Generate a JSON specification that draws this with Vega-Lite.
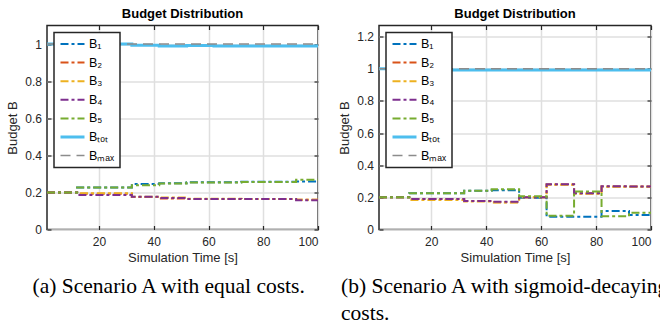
{
  "$schema": "https://vega.github.io/schema/vega-lite/v6.json",
  "padding": {"left": 5, "top": 6.5, "right": -11, "bottom": -3.5},
  "spacing": 17,
  "config": {
    "font": "Liberation Sans",
    "view": {"stroke": "#262626", "strokeWidth": 1.5},
    "axis": {
      "labelFontSize": 12, "labelColor": "#262626", "labelFont": "Liberation Sans",
      "titleFontSize": 13, "titleFontWeight": "normal", "titleColor": "#262626", "titleFont": "Liberation Sans",
      "gridColor": "#dfdfdf", "gridWidth": 1.5, "domain": false,
      "tickColor": "#262626", "tickSize": -4, "tickWidth": 1.2
    },
    "axisX": {"labelPadding": 11, "titlePadding": 4},
    "axisY": {"labelPadding": 9.5, "titlePadding": 5.5},
    "legend": {
      "orient": "top-left", "offset": 7, "title": null, "symbolType": "stroke", "symbolSize": 576,
      "labelFont": "Liberation Sans", "labelFontSize": 12.5, "labelColor": "black", "rowPadding": 5.6, "clipHeight": 13,
      "padding": 5, "strokeColor": "#262626", "strokeWidth": 1.5, "fillColor": "white", "labelOffset": 3
    },
    "title": {"font": "Liberation Sans", "fontSize": 13, "fontWeight": "bold", "color": "black", "offset": 4}
  },
  "datasets": {
    "a": [
      {"s": "B₁", "t": 1, "v": 0.2}, {"s": "B₁", "t": 12, "v": 0.226}, {"s": "B₁", "t": 32, "v": 0.245}, {"s": "B₁", "t": 42, "v": 0.249}, {"s": "B₁", "t": 52, "v": 0.255}, {"s": "B₁", "t": 72, "v": 0.257}, {"s": "B₁", "t": 92, "v": 0.259}, {"s": "B₁", "t": 100, "v": 0.259},
      {"s": "B₂", "t": 1, "v": 0.2}, {"s": "B₂", "t": 12, "v": 0.193}, {"s": "B₂", "t": 32, "v": 0.175}, {"s": "B₂", "t": 42, "v": 0.167}, {"s": "B₂", "t": 52, "v": 0.165}, {"s": "B₂", "t": 72, "v": 0.164}, {"s": "B₂", "t": 92, "v": 0.16}, {"s": "B₂", "t": 100, "v": 0.16},
      {"s": "B₃", "t": 1, "v": 0.2}, {"s": "B₃", "t": 12, "v": 0.195}, {"s": "B₃", "t": 32, "v": 0.177}, {"s": "B₃", "t": 42, "v": 0.172}, {"s": "B₃", "t": 52, "v": 0.166}, {"s": "B₃", "t": 72, "v": 0.165}, {"s": "B₃", "t": 92, "v": 0.161}, {"s": "B₃", "t": 100, "v": 0.161},
      {"s": "B₄", "t": 1, "v": 0.2}, {"s": "B₄", "t": 12, "v": 0.186}, {"s": "B₄", "t": 32, "v": 0.176}, {"s": "B₄", "t": 42, "v": 0.17}, {"s": "B₄", "t": 52, "v": 0.165}, {"s": "B₄", "t": 72, "v": 0.164}, {"s": "B₄", "t": 92, "v": 0.158}, {"s": "B₄", "t": 100, "v": 0.158},
      {"s": "B₅", "t": 1, "v": 0.2}, {"s": "B₅", "t": 12, "v": 0.226}, {"s": "B₅", "t": 32, "v": 0.238}, {"s": "B₅", "t": 42, "v": 0.248}, {"s": "B₅", "t": 52, "v": 0.254}, {"s": "B₅", "t": 72, "v": 0.256}, {"s": "B₅", "t": 92, "v": 0.268}, {"s": "B₅", "t": 100, "v": 0.268},
      {"s": "Bₜₒₜ", "t": 1, "v": 1.0}, {"s": "Bₜₒₜ", "t": 32, "v": 0.993}, {"s": "Bₜₒₜ", "t": 42, "v": 0.99}, {"s": "Bₜₒₜ", "t": 52, "v": 0.992}, {"s": "Bₜₒₜ", "t": 62, "v": 0.99}, {"s": "Bₜₒₜ", "t": 100, "v": 0.99},
      {"s": "Bₘₐₓ", "t": 1, "v": 1.0}, {"s": "Bₘₐₓ", "t": 100, "v": 1.0}
    ],
    "b": [
      {"s": "B₁", "t": 1, "v": 0.2}, {"s": "B₁", "t": 12, "v": 0.225}, {"s": "B₁", "t": 32, "v": 0.242}, {"s": "B₁", "t": 42, "v": 0.245}, {"s": "B₁", "t": 52, "v": 0.197}, {"s": "B₁", "t": 62, "v": 0.08}, {"s": "B₁", "t": 82, "v": 0.115}, {"s": "B₁", "t": 92, "v": 0.09}, {"s": "B₁", "t": 100, "v": 0.09},
      {"s": "B₂", "t": 1, "v": 0.2}, {"s": "B₂", "t": 12, "v": 0.19}, {"s": "B₂", "t": 32, "v": 0.177}, {"s": "B₂", "t": 42, "v": 0.17}, {"s": "B₂", "t": 52, "v": 0.2}, {"s": "B₂", "t": 62, "v": 0.28}, {"s": "B₂", "t": 72, "v": 0.225}, {"s": "B₂", "t": 82, "v": 0.268}, {"s": "B₂", "t": 100, "v": 0.268},
      {"s": "B₃", "t": 1, "v": 0.2}, {"s": "B₃", "t": 12, "v": 0.184}, {"s": "B₃", "t": 32, "v": 0.174}, {"s": "B₃", "t": 42, "v": 0.168}, {"s": "B₃", "t": 52, "v": 0.2}, {"s": "B₃", "t": 62, "v": 0.278}, {"s": "B₃", "t": 72, "v": 0.222}, {"s": "B₃", "t": 82, "v": 0.266}, {"s": "B₃", "t": 100, "v": 0.266},
      {"s": "B₄", "t": 1, "v": 0.2}, {"s": "B₄", "t": 12, "v": 0.19}, {"s": "B₄", "t": 32, "v": 0.177}, {"s": "B₄", "t": 42, "v": 0.172}, {"s": "B₄", "t": 52, "v": 0.2}, {"s": "B₄", "t": 62, "v": 0.281}, {"s": "B₄", "t": 72, "v": 0.225}, {"s": "B₄", "t": 82, "v": 0.27}, {"s": "B₄", "t": 92, "v": 0.268}, {"s": "B₄", "t": 100, "v": 0.268},
      {"s": "B₅", "t": 1, "v": 0.2}, {"s": "B₅", "t": 12, "v": 0.225}, {"s": "B₅", "t": 32, "v": 0.242}, {"s": "B₅", "t": 42, "v": 0.25}, {"s": "B₅", "t": 52, "v": 0.207}, {"s": "B₅", "t": 62, "v": 0.085}, {"s": "B₅", "t": 72, "v": 0.237}, {"s": "B₅", "t": 82, "v": 0.082}, {"s": "B₅", "t": 92, "v": 0.105}, {"s": "B₅", "t": 100, "v": 0.105},
      {"s": "Bₜₒₜ", "t": 1, "v": 1.0}, {"s": "Bₜₒₜ", "t": 12, "v": 0.993}, {"s": "Bₜₒₜ", "t": 100, "v": 0.993},
      {"s": "Bₘₐₓ", "t": 1, "v": 1.0}, {"s": "Bₘₐₓ", "t": 100, "v": 1.0}
    ]
  },
  "resolve": {
    "scale": {"x": "independent", "y": "independent", "color": "independent", "strokeDash": "independent", "strokeWidth": "independent"},
    "legend": {"color": "independent", "strokeDash": "independent", "strokeWidth": "independent"}
  },
  "hconcat": [
    {
      "title": {"text": "(a) Scenario A with equal costs.", "orient": "bottom", "anchor": "start", "font": "Liberation Serif", "fontSize": 21.5, "fontWeight": "normal", "color": "black", "dx": 27, "offset": 11, "lineHeight": 27},
      "resolve": {
        "scale": {"color": "independent", "strokeDash": "independent", "strokeWidth": "independent"},
        "legend": {"color": "independent", "strokeDash": "independent", "strokeWidth": "independent"}
      },
      "vconcat": [
        {
          "width": 271, "height": 204,
          "title": {"text": "Budget Distribution"},
          "data": {"name": "a"},
          "resolve": {"axis": {"x": "independent", "y": "independent"}},
          "layer": [
            {
              "mark": {"type": "line", "interpolate": "step-after", "clip": true},
              "encoding": {
                "x": {"field": "t", "type": "quantitative", "scale": {"domain": [1, 100], "nice": false, "zero": false}, "axis": {"values": [20, 40, 60, 80, 100], "title": "Simulation Time [s]"}},
                "y": {"field": "v", "type": "quantitative", "scale": {"domain": [0, 1.1], "nice": false}, "axis": {"values": [0, 0.2, 0.4, 0.6, 0.8, 1], "format": "~g", "title": "Budget B"}},
                "color": {"field": "s", "type": "nominal", "scale": {"domain": ["B₁", "B₂", "B₃", "B₄", "B₅", "Bₜₒₜ", "Bₘₐₓ"], "range": ["#0072BD", "#D95319", "#EDB120", "#7E2F8E", "#77AC30", "#4DBEEE", "#8c8c8c"]}},
                "strokeDash": {"field": "s", "type": "nominal", "scale": {"domain": ["B₁", "B₂", "B₃", "B₄", "B₅", "Bₜₒₜ", "Bₘₐₓ"], "range": [[8, 3, 3, 3], [8, 3, 3, 3], [8, 3, 3, 3], [8, 3, 3, 3], [8, 3, 3, 3], [1, 0], [10, 6]]}},
                "strokeWidth": {"field": "s", "type": "nominal", "scale": {"type": "ordinal", "domain": ["B₁", "B₂", "B₃", "B₄", "B₅", "Bₜₒₜ", "Bₘₐₓ"], "range": [2, 2, 2, 2, 2, 3, 1.5]}}
              }
            },
            {
              "mark": {"type": "line", "opacity": 0, "clip": true},
              "encoding": {
                "x": {"field": "t", "type": "quantitative", "scale": {"domain": [1, 100], "nice": false, "zero": false}, "axis": {"orient": "top", "values": [20, 40, 60, 80, 100], "labels": false, "grid": false, "title": null}},
                "y": {"field": "v", "type": "quantitative", "scale": {"domain": [0, 1.1], "nice": false}, "axis": {"orient": "right", "values": [0, 0.2, 0.4, 0.6, 0.8, 1], "labels": false, "grid": false, "title": null}},
                "detail": {"field": "s", "type": "nominal"}
              }
            }
          ]
        }
      ]
    },
    {
      "title": {"text": ["(b) Scenario A with sigmoid-decaying", "costs."], "orient": "bottom", "anchor": "start", "font": "Liberation Serif", "fontSize": 21.5, "fontWeight": "normal", "color": "black", "dx": 3.5, "offset": 11, "lineHeight": 27},
      "resolve": {
        "scale": {"color": "independent", "strokeDash": "independent", "strokeWidth": "independent"},
        "legend": {"color": "independent", "strokeDash": "independent", "strokeWidth": "independent"}
      },
      "vconcat": [
        {
          "width": 272, "height": 204,
          "title": {"text": "Budget Distribution"},
          "data": {"name": "b"},
          "resolve": {"axis": {"x": "independent", "y": "independent"}},
          "layer": [
            {
              "mark": {"type": "line", "interpolate": "step-after", "clip": true},
              "encoding": {
                "x": {"field": "t", "type": "quantitative", "scale": {"domain": [1, 100], "nice": false, "zero": false}, "axis": {"values": [20, 40, 60, 80, 100], "title": "Simulation Time [s]"}},
                "y": {"field": "v", "type": "quantitative", "scale": {"domain": [0, 1.27], "nice": false}, "axis": {"values": [0, 0.2, 0.4, 0.6, 0.8, 1, 1.2], "format": "~g", "title": "Budget B"}},
                "color": {"field": "s", "type": "nominal", "scale": {"domain": ["B₁", "B₂", "B₃", "B₄", "B₅", "Bₜₒₜ", "Bₘₐₓ"], "range": ["#0072BD", "#D95319", "#EDB120", "#7E2F8E", "#77AC30", "#4DBEEE", "#8c8c8c"]}},
                "strokeDash": {"field": "s", "type": "nominal", "scale": {"domain": ["B₁", "B₂", "B₃", "B₄", "B₅", "Bₜₒₜ", "Bₘₐₓ"], "range": [[8, 3, 3, 3], [8, 3, 3, 3], [8, 3, 3, 3], [8, 3, 3, 3], [8, 3, 3, 3], [1, 0], [10, 6]]}},
                "strokeWidth": {"field": "s", "type": "nominal", "scale": {"type": "ordinal", "domain": ["B₁", "B₂", "B₃", "B₄", "B₅", "Bₜₒₜ", "Bₘₐₓ"], "range": [2, 2, 2, 2, 2, 3, 1.5]}}
              }
            },
            {
              "mark": {"type": "line", "opacity": 0, "clip": true},
              "encoding": {
                "x": {"field": "t", "type": "quantitative", "scale": {"domain": [1, 100], "nice": false, "zero": false}, "axis": {"orient": "top", "values": [20, 40, 60, 80, 100], "labels": false, "grid": false, "title": null}},
                "y": {"field": "v", "type": "quantitative", "scale": {"domain": [0, 1.27], "nice": false}, "axis": {"orient": "right", "values": [0, 0.2, 0.4, 0.6, 0.8, 1, 1.2], "labels": false, "grid": false, "title": null}},
                "detail": {"field": "s", "type": "nominal"}
              }
            }
          ]
        }
      ]
    }
  ]
}
